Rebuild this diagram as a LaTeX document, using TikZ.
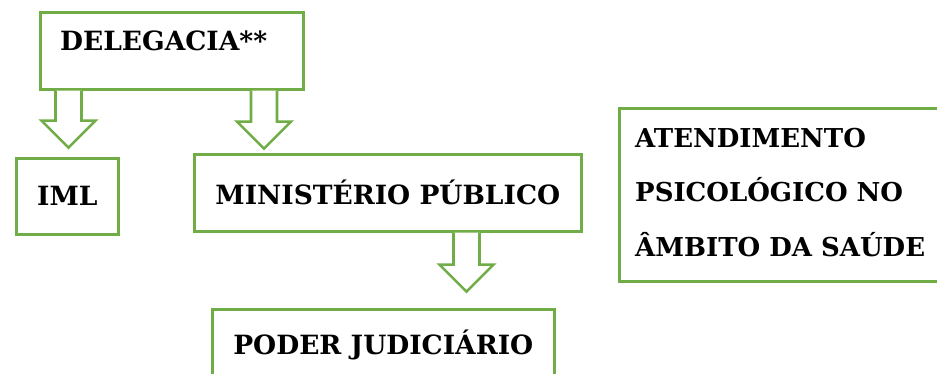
\documentclass[tikz,border=0pt]{standalone}
\usepackage{fontspec}
\setmainfont{DejaVu Serif}
\usetikzlibrary{calc}
\definecolor{grn}{HTML}{70AD47}
\tikzset{
  box/.style={draw=grn, line width=2.6pt, fill=white, inner sep=0pt, anchor=north west},
  lbl/.style={font=\fontsize{26.5}{30}\selectfont\bfseries, inner sep=0pt},
  slbl/.style={font=\fontsize{26}{30}\selectfont\bfseries, inner sep=0pt, anchor=base west},
  darrow/.pic={\draw[grn, line width=2.6pt, fill=white, line join=miter]
    (-13,0) -- (-13,#1) -- (-27,#1) -- (0,{#1+27}) -- (27,#1) -- (13,#1) -- (13,0);},
  darrow/.default=30
}
\begin{document}
\begin{tikzpicture}[x=1pt,y=-1pt]
\useasboundingbox (0,0) rectangle (937,374);
\clip (0,0) rectangle (937,374);
% boxes
\node[box, minimum width=263pt, minimum height=77pt] (del) at (39,11) {};
\node[lbl, anchor=base west] (deltxt) at (60,51) {DELEGACIA**};
\node[box, minimum width=102pt, minimum height=76pt, lbl] (iml) at (15,157) {IML};
\node[box, minimum width=387pt, minimum height=77pt, lbl] (mp) at (193,153) {MINISTÉRIO PÚBLICO};
\node[box, minimum width=342pt, minimum height=72pt, lbl] (pj) at (211,308) {PODER JUDICIÁRIO};
\node[box, minimum width=400pt, minimum height=173pt] (at) at (618,107) {};
\node[slbl] (at1) at (635,148) {ATENDIMENTO};
\node[slbl] (at2) at (635,202) {PSICOLÓGICO NO};
\node[slbl] (at3) at (635,256) {ÂMBITO DA SAÚDE};
% block arrows
\pic at ($(del.south west)+(29.5,0)$) {darrow=30};
\pic at ($(del.south west)+(225,0)$) {darrow=31};
\pic at ($(mp.south west)+(273.5,0)$) {darrow=32};
\end{tikzpicture}
\end{document}
